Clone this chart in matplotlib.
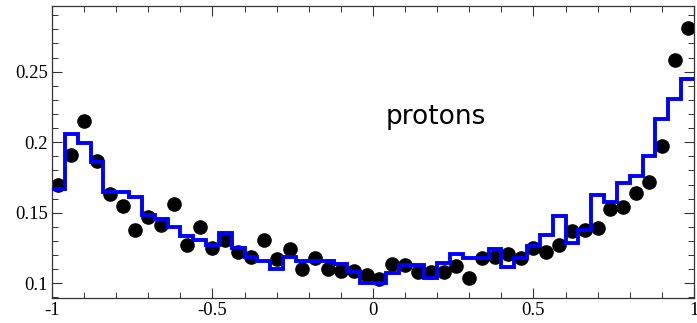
import numpy as np
import matplotlib
matplotlib.use("Agg")
import matplotlib.pyplot as plt
from matplotlib.ticker import FixedLocator, MultipleLocator, FixedFormatter

plt.rcParams['axes.unicode_minus'] = False

# bin edges and centres (50 bins over [-1, 1])
edges = np.linspace(-1, 1, 51)
centers = 0.5 * (edges[:-1] + edges[1:])

# data points (black dots)
data_vals = [0.170, 0.191, 0.215, 0.187, 0.163, 0.155, 0.138, 0.147, 0.141, 0.156,
             0.127, 0.140, 0.125, 0.131, 0.122, 0.119, 0.131, 0.117, 0.124, 0.110,
             0.118, 0.110, 0.109, 0.109, 0.106, 0.103, 0.114, 0.113, 0.108, 0.108,
             0.108, 0.112, 0.104, 0.118, 0.119, 0.121, 0.118, 0.125, 0.122, 0.127,
             0.137, 0.138, 0.139, 0.153, 0.154, 0.164, 0.172, 0.197, 0.258, 0.281]

# simulation histogram (blue steps)
sim_vals = [0.1666, 0.2055, 0.1991, 0.1861, 0.1647, 0.1647, 0.1613, 0.1484, 0.1455, 0.1401,
            0.1333, 0.1310, 0.1275, 0.1356, 0.1248, 0.1184, 0.1160, 0.1099, 0.1184, 0.1160,
            0.1155, 0.1155, 0.1134, 0.1082, 0.1000, 0.1000, 0.1073, 0.1133, 0.1133, 0.1040,
            0.1145, 0.1205, 0.1180, 0.1180, 0.1240, 0.1118, 0.1177, 0.1264, 0.1342, 0.1477,
            0.1288, 0.1377, 0.1625, 0.1574, 0.1713, 0.1760, 0.1902, 0.2164, 0.2305, 0.2445]

x_ticks = [-1, -0.5, 0, 0.5, 1]
x_labels = ["-1", "-0.5", "0", "0.5", "1"]
y_ticks = [0.1, 0.15, 0.2, 0.25]
y_labels = ["0.1", "0.15", "0.2", "0.25"]

fig = plt.figure(figsize=(6.97, 3.23), dpi=100)
ax = fig.add_axes([0.0746, 0.0774, 0.921, 0.904])

ax.plot(centers, data_vals, 'o', color='black', markersize=9.5, zorder=2)
ax.stairs(sim_vals, edges, baseline=None, color='#0000ff', linewidth=2.8, zorder=3)

ax.text(0.195, 0.218, "protons", fontsize=19, ha='center', va='center',
        family='DejaVu Sans')

ax.set_xlim(-1, 1)
ax.set_ylim(0.0896, 0.2965)

ax.xaxis.set_major_locator(FixedLocator(x_ticks))
ax.xaxis.set_major_formatter(FixedFormatter(x_labels))
ax.xaxis.set_minor_locator(MultipleLocator(0.1))
ax.yaxis.set_major_locator(FixedLocator(y_ticks))
ax.yaxis.set_major_formatter(FixedFormatter(y_labels))
ax.yaxis.set_minor_locator(MultipleLocator(0.01))

ax.tick_params(which='both', direction='in', top=True, right=True,
               labelsize=13.5, color='#333333')
ax.tick_params(which='major', length=7, width=0.8, pad=3)
ax.tick_params(which='minor', length=4, width=0.7)
for lab in ax.get_xticklabels() + ax.get_yticklabels():
    lab.set_family('Liberation Serif')
for s in ax.spines.values():
    s.set_color('#333333')
    s.set_linewidth(0.9)

fig.savefig("out.png", dpi=100)
